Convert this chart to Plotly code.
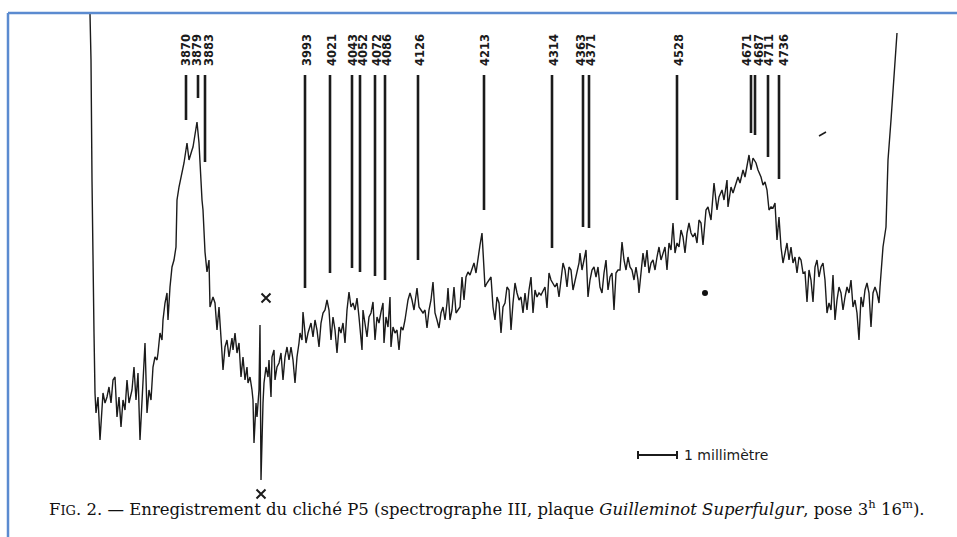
import plotly.graph_objects as go

# Microphotometer trace of plate P5, read along the plate (scan units, depth downward)
trace_pos = [
    90, 91, 92, 93, 94, 95,
    96, 98, 100, 103, 105, 107, 109, 111, 113, 115, 117, 119, 121, 123, 125, 127, 129, 132, 134, 136, 138,
    140, 143, 145, 147, 149, 151, 153, 155, 157, 158, 160, 162, 163, 165, 167, 168, 170, 172, 174, 176,
    177, 179, 182, 184, 187, 189, 192, 193, 197, 199, 202, 203, 205, 207, 209,
    210, 213, 215, 217, 219, 222, 223, 225, 227, 229, 232, 233, 235, 237, 239, 241, 243, 245, 247, 248,
    250, 252, 253, 254, 256, 257, 259, 260, 261, 263, 264, 266, 268, 269, 271, 272, 274, 275, 277, 279,
    281, 283, 285, 287, 289, 291, 293, 295, 297, 299, 300, 302, 303, 306, 308, 311, 313, 315, 317, 319,
    321, 323, 325, 327, 329, 331, 333, 335, 337, 339, 341, 343, 345, 347, 349, 351, 353, 355, 357, 359,
    362, 363, 365, 367, 369, 371, 373, 375, 377, 379, 381, 383, 384, 386, 388, 390, 391, 393, 395, 397,
    399, 401, 403, 405, 408, 410, 412, 414, 417, 419, 421, 423, 425, 427, 429, 431, 433, 435, 437, 439,
    441, 443, 445, 447, 448, 450, 452, 454, 456, 458, 460, 462, 464, 466, 468, 470, 472, 474, 476, 478,
    480, 482,
    485, 487, 489, 491, 493, 495, 497, 499, 501, 503, 505, 507, 509, 511, 513, 515, 517, 519, 521, 523,
    525, 527, 529, 531, 533, 535, 537, 539, 541, 543, 545, 547, 549, 551, 553, 555, 557, 559, 561, 563,
    565, 567, 569, 571, 573, 575, 577, 579, 580, 582, 584, 586, 588, 590, 592, 594, 596, 598, 600, 602,
    604, 606, 608, 610, 612, 614, 616, 618, 620, 622, 624, 626, 628, 630, 632, 634, 636, 638, 639, 641,
    643, 645, 647, 649, 651, 653, 655, 657, 659, 661, 663, 665, 667, 669, 671, 673, 675, 677, 679, 681,
    683, 685, 687, 689, 691, 693, 695, 697, 699, 701, 703, 706, 708, 711, 714, 717, 719,
    722, 724, 727, 728, 731, 733, 736, 738, 740, 743, 745, 747, 749, 751, 753, 756, 758, 761, 763, 765,
    767, 769, 771, 773, 775, 777, 779, 781, 783, 785, 787, 789, 791, 793, 795, 797, 799, 801, 803, 805,
    807, 809, 811, 813, 815, 817, 819, 821, 823, 825, 827, 829, 831, 833, 835, 837, 839, 841, 843, 845,
    847, 849, 851, 853, 855, 857, 859, 861, 863, 865, 867, 869, 871, 873, 875, 877, 879, 880, 883, 886,
    888, 891, 894, 897,
]
trace_depth = [
    14, 60, 180, 280, 333, 393,
    413, 397, 440, 393, 403, 397, 387, 403, 380, 377, 417, 397, 427, 400, 410, 380, 403, 390, 367, 400, 373,
    440, 383, 343, 413, 390, 400, 367, 357, 360, 353, 333, 340, 320, 303, 293, 320, 287, 267, 260, 247,
    200, 187, 173, 163, 143, 160, 150, 147, 122, 143, 200, 210, 252, 272, 260,
    307, 297, 303, 330, 307, 353, 370, 347, 340, 357, 338, 350, 333, 353, 343, 377, 357, 380, 367, 383,
    377, 390, 400, 443, 403, 417, 390, 325, 480, 403, 383, 367, 377, 360, 397, 357, 350, 380, 367, 363,
    353, 380, 357, 347, 360, 347, 360, 383, 357, 343, 333, 340, 312, 343, 333, 323, 337, 320, 330, 347,
    323, 313, 310, 300, 310, 340, 317, 330, 353, 327, 333, 323, 343, 310, 292, 307, 303, 310, 298, 317,
    350, 310, 323, 337, 317, 313, 302, 340, 317, 323, 312, 303, 343, 317, 327, 297, 347, 327, 333, 330,
    350, 327, 330, 320, 300, 293, 300, 310, 288, 307, 310, 313, 310, 328, 310, 300, 282, 313, 320, 328,
    313, 307, 320, 303, 288, 320, 310, 287, 313, 310, 307, 277, 300, 277, 272, 275, 268, 263, 273, 257,
    245, 233,
    287, 283, 280, 277, 307, 320, 297, 303, 333, 307, 303, 287, 290, 330, 303, 283, 293, 300, 297, 313,
    293, 310, 290, 277, 313, 290, 297, 293, 295, 290, 287, 308, 273, 280, 283, 287, 283, 297, 280, 263,
    270, 287, 267, 270, 290, 280, 273, 263, 253, 270, 260, 250, 297, 280, 270, 267, 277, 267, 287, 293,
    273, 260, 290, 277, 273, 310, 273, 270, 270, 242, 260, 270, 257, 267, 270, 280, 267, 280, 293, 273,
    253, 267, 250, 273, 263, 260, 270, 257, 247, 260, 253, 247, 270, 243, 250, 223, 253, 243, 247, 230,
    237, 253, 233, 223, 233, 237, 233, 243, 220, 223, 245, 210, 207, 220, 183, 210, 197,
    190, 200, 180, 207, 187, 193, 183, 177, 183, 170, 177, 167, 155, 170, 158, 163, 170, 177, 185, 182,
    190, 210, 207, 208, 203, 240, 217, 247, 263, 253, 243, 260, 247, 263, 257, 273, 257, 260, 273, 272,
    302, 270, 280, 302, 267, 260, 277, 267, 263, 280, 313, 303, 310, 275, 320, 300, 287, 293, 310, 297,
    287, 293, 280, 307, 300, 313, 340, 297, 307, 290, 283, 293, 327, 293, 287, 293, 303, 287, 247, 227,
    160, 120, 75, 33,
]

# Identified wavelengths (Å) with their marker positions
wavelengths = ["3870", "3879", "3883", "3993", "4021", "4043", "4052", "4072", "4086", "4126",
               "4213", "4314", "4363", "4371", "4528", "4671", "4687", "4711", "4736"]
line_pos = [186, 198, 205, 305, 330, 352, 360, 375, 385, 418,
            484, 552, 583, 589, 677, 751, 755, 768, 779]
line_end = [120, 98, 162, 288, 273, 268, 272, 276, 280, 260,
            210, 248, 227, 228, 200, 133, 135, 157, 179]
label_pos = [186, 197, 209, 307, 332, 353, 363, 377, 387, 420,
             485, 554, 581, 591, 679, 747, 759, 769, 784]
line_top = 75
label_base = 68

# Crosses flagging the plate defect
cross_pos = [266, 261]
cross_depth = [298, 494]

# Ink blot on the plate record
blot_pos = [705]
blot_depth = [293]

W, H = 957, 537
ink = "#1b1b1b"

fig = go.Figure()

# recorded density trace
fig.add_trace(go.Scatter(
    x=trace_pos, y=trace_depth, mode="lines",
    line=dict(color=ink, width=1.4), hoverinfo="skip", showlegend=False,
))

# wavelength marker strokes
mx, my = [], []
for p, e in zip(line_pos, line_end):
    mx += [p, p, None]
    my += [line_top, e, None]
fig.add_trace(go.Scatter(
    x=mx, y=my, mode="lines", line=dict(color=ink, width=2.6),
    hoverinfo="skip", showlegend=False,
))

fig.add_trace(go.Scatter(
    x=cross_pos, y=cross_depth, mode="markers",
    marker=dict(symbol="x-thin", size=9, line=dict(width=2, color=ink)),
    hoverinfo="skip", showlegend=False,
))

fig.add_trace(go.Scatter(
    x=blot_pos, y=blot_depth, mode="markers",
    marker=dict(symbol="circle", size=6, color="#111"),
    hoverinfo="skip", showlegend=False,
))

for lab, p in zip(wavelengths, label_pos):
    fig.add_annotation(
        x=p, y=label_base, text=lab, textangle=-90, showarrow=False,
        xanchor="center", yanchor="bottom",
        font=dict(family="DejaVu Sans, sans-serif", size=11.5, color=ink, weight="bold"),
    )

# 1 mm scale bar
bar_x0, bar_x1, bar_y = 638, 677, 455
fig.add_shape(type="line", x0=bar_x0, x1=bar_x1, y0=bar_y, y1=bar_y, line=dict(color=ink, width=2.2))
for bx in (bar_x0, bar_x1):
    fig.add_shape(type="line", x0=bx, x1=bx, y0=bar_y - 4, y1=bar_y + 4, line=dict(color=ink, width=2))
fig.add_annotation(x=bar_x1 + 5, y=bar_y, text="1 millimètre", showarrow=False,
                   xanchor="left", yanchor="middle",
                   font=dict(family="DejaVu Sans, sans-serif", size=14, color=ink))

# stray pen stroke near the top right
fig.add_shape(type="line", x0=819, x1=826, y0=136, y1=132, line=dict(color=ink, width=1.6))

# figure caption
caption = ("F<span style='font-size:13px'>IG</span>. 2. — Enregistrement du cliché P5 "
           "(spectrographe III, plaque <i>Guilleminot Superfulgur</i>, pose 3<sup>h</sup> 16<sup>m</sup>).")
fig.add_annotation(x=47, y=508, text=caption, showarrow=False, xanchor="left", yanchor="middle",
                   font=dict(family="DejaVu Serif, serif", size=16.5, color="#111"))

# page frame (left and top edges)
frame = "#5b8bd0"
fig.add_shape(type="line", x0=8, x1=8, y0=13, y1=H, line=dict(color=frame, width=2.5))
fig.add_shape(type="line", x0=8, x1=W, y0=13, y1=13, line=dict(color=frame, width=2.5))

fig.update_layout(
    width=W, height=H, margin=dict(l=0, r=0, t=0, b=0),
    paper_bgcolor="white", plot_bgcolor="white",
    xaxis=dict(range=[0, W], visible=False, fixedrange=True),
    yaxis=dict(range=[H, 0], visible=False, fixedrange=True),
)

fig.write_html("out.html")
